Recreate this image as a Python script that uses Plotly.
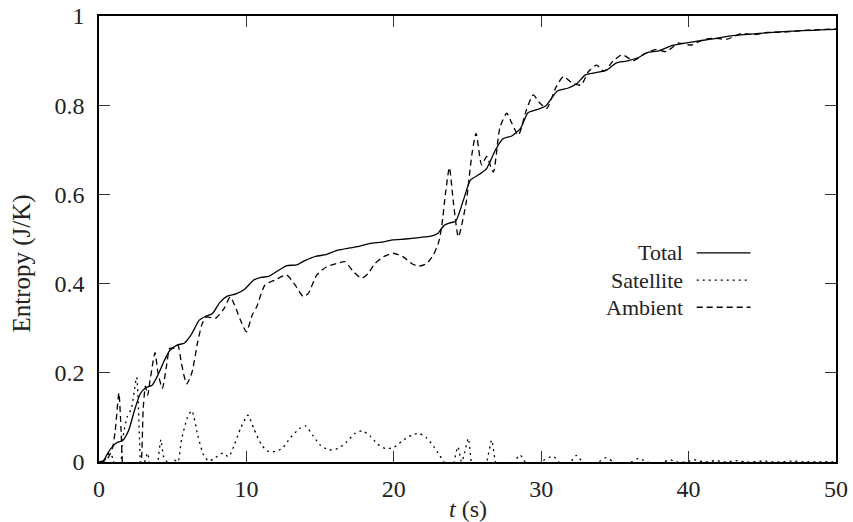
import plotly.graph_objects as go

# ---------------- data ----------------
total_t = [0, 0.3, 0.6, 0.9, 1.2, 1.6, 2.0, 2.4, 2.8, 3.2, 3.6, 4.0, 4.4, 4.8, 5.3, 5.8,
           6.3, 6.8, 7.2, 7.7, 8.2, 8.7, 9.3, 9.9, 10.5, 11.0, 11.5, 12.0, 12.7, 13.4,
           14.0, 14.7, 15.4, 16.2, 17.0, 17.7, 18.4, 19.2, 19.9, 20.8, 21.7, 22.6, 23.0,
           23.4, 23.8, 24.2, 24.7, 25.2, 25.8, 26.3, 26.9, 27.4, 28.0, 28.6, 29.1, 29.7,
           30.3, 31.1, 31.8, 32.4, 33.0, 33.7, 34.4, 35.1, 35.8, 36.6, 37.2, 38.0, 38.9,
           40.3, 41.5, 43.0, 44.8, 47.0, 50.0]
total_s = [0, 0.003, 0.02, 0.034, 0.043, 0.048, 0.07, 0.115, 0.153, 0.167, 0.172, 0.195,
           0.225, 0.25, 0.262, 0.267, 0.288, 0.318, 0.326, 0.333, 0.358, 0.372, 0.377,
           0.388, 0.408, 0.414, 0.416, 0.426, 0.44, 0.442, 0.452, 0.461, 0.465, 0.475,
           0.48, 0.484, 0.49, 0.493, 0.498, 0.5, 0.503, 0.507, 0.513, 0.53, 0.536, 0.54,
           0.585, 0.632, 0.645, 0.658, 0.7, 0.725, 0.731, 0.748, 0.783, 0.79, 0.798,
           0.832, 0.838, 0.848, 0.868, 0.873, 0.878, 0.895, 0.899, 0.907, 0.918, 0.922,
           0.934, 0.942, 0.948, 0.956, 0.961, 0.966, 0.97]

ambient_t = [0, 0.5, 0.9, 1.1, 1.35, 1.5, 1.62, 2.0, 2.5, 2.85, 3.0, 3.15, 3.3, 3.45,
             3.8, 4.0, 4.3, 4.6, 4.8, 5.1, 5.35, 5.6, 5.95, 6.3, 6.7, 7.0, 7.3, 7.9, 8.5,
             8.9, 9.2, 9.6, 10.0, 10.4, 10.7, 11.26, 11.94, 12.73, 13.3, 13.86, 14.2,
             14.77, 15.45, 16.13, 16.69, 17.25, 17.82, 18.27, 18.72, 19.29, 19.97, 20.64,
             21.21, 21.66, 22.23, 22.68, 23.02, 23.25, 23.5, 23.77, 24.05, 24.38, 24.9,
             25.3, 25.58, 25.96, 26.3, 26.75, 27.2, 27.66, 28.0, 28.45, 29.0, 29.46, 29.9,
             30.37, 31.0, 31.5, 32.1, 32.7, 33.2, 33.76, 34.25, 34.9, 35.5, 36.25, 37.0,
             37.8, 38.5, 39.3, 40.2, 41.0, 41.7, 42.6, 43.6, 44.4, 45.3, 46.5, 48.0, 50.0]
ambient_s = [0, 0.004, 0.03, 0.07, 0.155, 0.07, -0.01, -0.05, -0.06, -0.01, 0.12, 0.17,
             0.15, 0.18, 0.245, 0.2, 0.165, 0.22, 0.255, 0.255, 0.262, 0.22, 0.175, 0.2,
             0.27, 0.31, 0.325, 0.322, 0.345, 0.37, 0.352, 0.318, 0.292, 0.33, 0.348,
             0.397, 0.408, 0.419, 0.397, 0.371, 0.378, 0.419, 0.438, 0.445, 0.449, 0.427,
             0.412, 0.423, 0.445, 0.46, 0.468, 0.46, 0.445, 0.439, 0.445, 0.464, 0.49,
             0.528, 0.6, 0.66, 0.58, 0.505, 0.58, 0.69, 0.737, 0.666, 0.685, 0.65, 0.75,
             0.782, 0.76, 0.733, 0.79, 0.823, 0.805, 0.793, 0.84, 0.864, 0.85, 0.845,
             0.875, 0.89, 0.876, 0.9, 0.913, 0.9, 0.915, 0.925, 0.92, 0.939, 0.935, 0.947,
             0.95, 0.948, 0.961, 0.958, 0.963, 0.964, 0.968, 0.971]

satellite_t = [0, 0.4, 0.7, 0.95, 1.1, 1.35, 1.6, 1.9, 2.2, 2.55, 2.75, 2.9, 3.1, 3.3,
               3.45, 3.8, 4.0, 4.2, 4.4, 4.8, 5.1, 5.35, 5.6, 6.0, 6.3, 6.7, 7.1, 7.45,
               7.9, 8.4, 8.8, 9.2, 9.6, 10.1, 10.5, 11.0, 11.4, 11.8, 12.4, 13.0, 13.6,
               14.0, 14.5, 15.0, 15.6, 16.2, 16.8, 17.4, 17.86, 18.4, 18.9, 19.45, 20.0,
               20.6, 21.2, 21.7, 22.2, 22.7, 23.1, 23.4, 23.6, 23.9, 24.1, 24.35, 24.6,
               24.8, 25.05, 25.25, 25.5, 26.0, 26.3, 26.64, 26.9, 27.3, 27.7, 28.2, 28.56,
               28.9, 29.4, 30.0, 30.8, 31.2, 31.6, 32.0, 32.4, 32.8, 33.3, 33.9, 34.4,
               34.9, 35.5, 36.1, 36.6, 37.2, 37.8, 38.3, 38.7, 39.2, 39.8, 40.4, 41.0,
               41.8, 42.5, 43.2, 44.0, 45.0, 46.0, 47.0, 48.0, 49.0, 50.0]
satellite_s = [0, 0.005, 0.02, 0.008, -0.02, -0.11, 0.05, 0.1, 0.12, 0.19, 0.05, -0.1,
               0.0, 0.02, -0.01, -0.07, 0.0, 0.05, 0.01, -0.005, 0.005, 0.0, 0.05, 0.1,
               0.115, 0.06, 0.015, 0.002, 0.01, 0.02, 0.012, 0.04, 0.075, 0.105, 0.075,
               0.04, 0.025, 0.023, 0.03, 0.055, 0.075, 0.081, 0.06, 0.038, 0.027, 0.03,
               0.045, 0.065, 0.07, 0.058, 0.04, 0.03, 0.033, 0.048, 0.06, 0.064, 0.055,
               0.035, 0.015, 0.0, -0.1, -0.12, 0.0, 0.034, 0.0, 0.02, 0.053, 0.0, -0.1,
               -0.02, 0.0, 0.049, 0.0, -0.03, -0.05, 0.0, 0.016, 0.0, -0.03, 0.0, 0.013,
               0.0, -0.02, 0.0, 0.015, 0.0, -0.01, 0.0, 0.01, 0.0, -0.01, 0.0, 0.008, 0.0,
               -0.003, 0.0, 0.005, 0.0, 0.0, 0.005, 0.0, 0.003, 0.0, 0.003, 0.0, 0.002,
               0.0, 0.002, 0.0, 0.001, 0.0]

series_names = ["Total", "Satellite", "Ambient"]
x_ticks = [0, 10, 20, 30, 40, 50]
y_ticks = [0, 0.2, 0.4, 0.6, 0.8, 1]
y_tick_text = ["0", "0.2", "0.4", "0.6", "0.8", "1"]

# ---------------- figure ----------------
FONT = "Liberation Serif"
styles = {
    "Total": dict(color="black", width=1.3, dash="solid"),
    "Satellite": dict(color="black", width=1.3, dash="2px,4px"),
    "Ambient": dict(color="black", width=1.3, dash="6px,4px"),
}
data = {"Total": (total_t, total_s), "Satellite": (satellite_t, satellite_s),
        "Ambient": (ambient_t, ambient_s)}

fig = go.Figure()
for name in ["Satellite", "Ambient", "Total"]:
    t, s = data[name]
    fig.add_trace(go.Scatter(x=t, y=s, mode="lines", name=name,
                             line=dict(shape="spline", smoothing=0.6, **styles[name]),
                             showlegend=False))

axis_common = dict(showgrid=False, zeroline=False, showline=True, linecolor="black",
                   linewidth=1.5, mirror="ticks", ticks="inside", ticklen=11,
                   tickwidth=1.2, tickcolor="#333333", automargin=False,
                   tickfont=dict(family=FONT, size=24, color="#222222"))
fig.update_xaxes(range=[0, 50], tickvals=x_ticks, ticktext=[str(v) for v in x_ticks],
                 ticklabelstandoff=4, **axis_common)
fig.update_yaxes(range=[0, 1], tickvals=y_ticks, ticktext=y_tick_text,
                 ticklabelstandoff=8, **axis_common)

# legend (text right-aligned, sample line on the right)
leg_y = [0.469, 0.408, 0.347]
for name, yy in zip(series_names, leg_y):
    fig.add_annotation(xref="paper", yref="paper", x=0.795, y=yy, text=name,
                       showarrow=False, xanchor="right", yanchor="middle",
                       font=dict(family=FONT, size=22, color="#222222"))
    st = styles[name]
    fig.add_shape(type="line", xref="paper", yref="paper", x0=0.811, x1=0.884,
                  y0=yy, y1=yy, line=dict(color="black", width=st["width"], dash=st["dash"]))

fig.add_annotation(xref="paper", yref="paper", x=0.5, y=-0.105, text="<i>t</i> (s)",
                   showarrow=False, xanchor="center", yanchor="middle",
                   font=dict(family=FONT, size=24, color="#222222"))
fig.add_annotation(xref="paper", yref="paper", x=-0.1045, y=0.445, text="Entropy (J/K)",
                   showarrow=False, xanchor="center", yanchor="middle", textangle=-90,
                   font=dict(family=FONT, size=25, color="#222222"))

fig.update_layout(width=853, height=522, margin=dict(l=99, r=17, t=16, b=60),
                  plot_bgcolor="white", paper_bgcolor="white")
fig.write_html("out.html", config={"displayModeBar": False},
               post_script="document.body.style.margin='0';document.body.style.overflow='hidden';")
